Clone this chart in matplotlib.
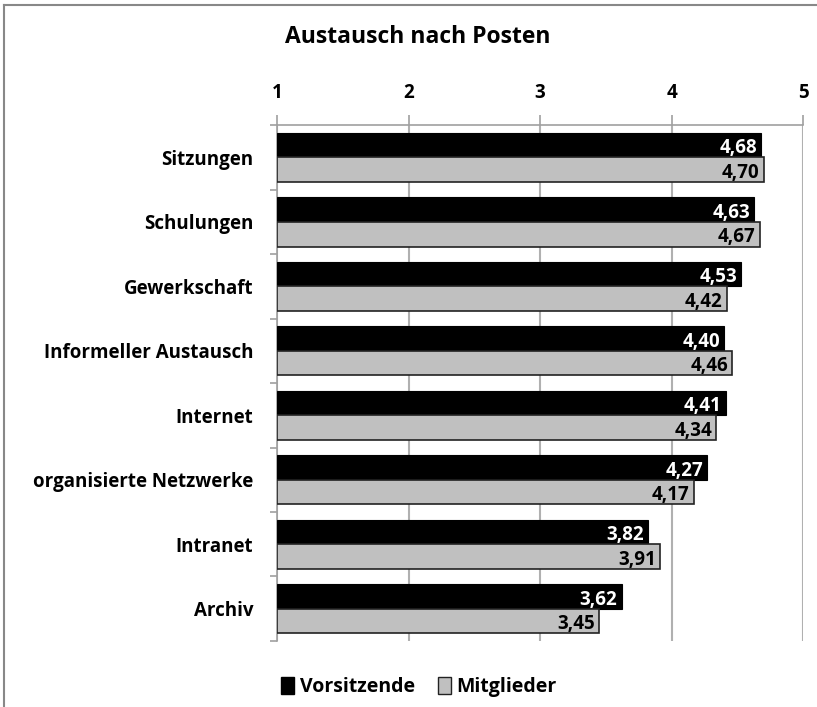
import matplotlib.pyplot as plt
from matplotlib.patches import Patch
from matplotlib.lines import Line2D

categories = ['Sitzungen', 'Schulungen', 'Gewerkschaft', 'Informeller Austausch',
              'Internet', 'organisierte Netzwerke', 'Intranet', 'Archiv']
vorsitzende = [4.68, 4.63, 4.53, 4.40, 4.41, 4.27, 3.82, 3.62]
mitglieder = [4.70, 4.67, 4.42, 4.46, 4.34, 4.17, 3.91, 3.45]
xticks = [1, 2, 3, 4, 5]

plt.rcParams['font.family'] = ['Open Sans', 'DejaVu Sans']
plt.rcParams['font.weight'] = 'bold'

fig = plt.figure(figsize=(8.17, 7.07), dpi=100)
ax = fig.add_axes([0.339, 0.0934, 0.644, 0.7296])

pos = list(range(len(categories)))
h = 0.385
off = 0.19
ax.barh([p - off for p in pos], [v - 1 for v in vorsitzende], left=1, height=h,
        color='black', edgecolor='black', linewidth=0.8, zorder=3)
ax.barh([p + off for p in pos], [v - 1 for v in mitglieder], left=1, height=h,
        color='#c0c0c0', edgecolor='#222222', linewidth=1.2, zorder=3)

for p, v in zip(pos, vorsitzende):
    ax.annotate(f'{v:.2f}'.replace('.', ','), (v, p - off + 0.05), xytext=(-3, 0),
                textcoords='offset points', ha='right', va='center',
                color='white', fontsize=13.5, fontweight='bold', zorder=4)
for p, v in zip(pos, mitglieder):
    ax.annotate(f'{v:.2f}'.replace('.', ','), (v, p + off + 0.05), xytext=(-3, 0),
                textcoords='offset points', ha='right', va='center',
                color='black', fontsize=13.5, fontweight='bold', zorder=4)

ax.set_xlim(1, 5)
ax.set_ylim(len(categories) - 0.5, -0.5)
ax.xaxis.tick_top()
ax.set_xticks(xticks)
ax.set_xticklabels([str(t) for t in xticks], fontsize=13.5, fontweight='bold')
ax.tick_params(axis='x', length=7, color='#a0a0a0', width=1.2, pad=9)
ax.set_yticks(pos)
ax.set_yticklabels(categories, fontsize=13.5, fontweight='bold')
ax.set_yticks([p + 0.5 for p in range(-1, len(categories))], minor=True)
ax.tick_params(axis='y', which='major', length=0, pad=17)
ax.tick_params(axis='y', which='minor', length=5, color='#a0a0a0', width=1.2)
ax.grid(axis='x', color='#b0b0b0', linewidth=1.5, zorder=0)
for s in ['right', 'bottom']:
    ax.spines[s].set_visible(False)
for s in ['top', 'left']:
    ax.spines[s].set_color('#a0a0a0')
    ax.spines[s].set_linewidth(1.2)

fig.text(0.511, 0.947, 'Austausch nach Posten', ha='center', va='center',
         fontsize=16.5, fontweight='bold')

handles = [Patch(facecolor='black', edgecolor='black', label='Vorsitzende'),
           Patch(facecolor='#c0c0c0', edgecolor='#222222', label='Mitglieder')]
fig.legend(handles=handles, loc='center', bbox_to_anchor=(0.513, 0.028), ncol=2,
           frameon=False, fontsize=14, handlelength=0.65, handleheight=1.0,
           handletextpad=0.3, columnspacing=1.2)

# frame on top and left
fig.add_artist(Line2D([0.005, 0.005], [0, 0.993], color='#888888', linewidth=1.5))
fig.add_artist(Line2D([0.005, 1], [0.993, 0.993], color='#888888', linewidth=1.5))

fig.savefig('out.png', dpi=100)
